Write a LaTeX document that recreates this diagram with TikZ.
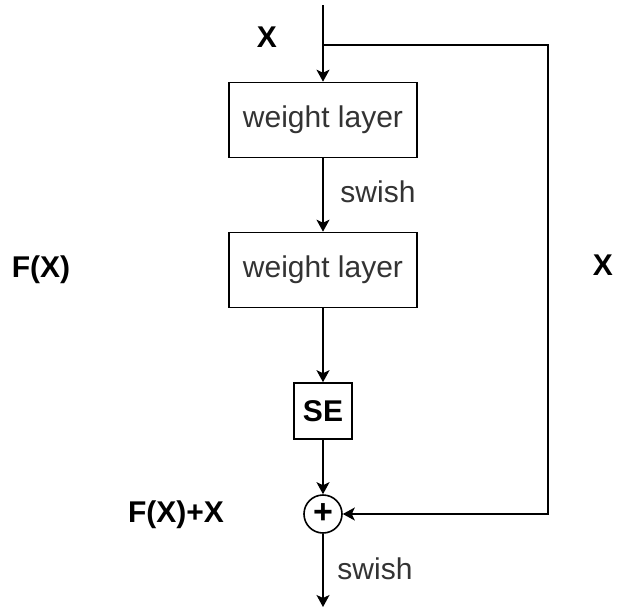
\documentclass[tikz,border=0pt]{standalone}
\usepackage{fontspec}
\setmainfont{Liberation Sans}
\usetikzlibrary{arrows.meta}

\begin{document}
\begin{tikzpicture}[x=0.5pt,y=-0.5pt,line width=0.8pt,
    font=\fontsize{15}{18}\selectfont,
    >={Stealth[length=6pt,width=6.5pt,inset=1.5pt]}]
  \useasboundingbox (0,0) rectangle (617,612);
  \tikzset{
    layer/.style={draw, minimum width=94pt, minimum height=37.5pt, inner sep=0pt, text=black!80},
    sebox/.style={draw, minimum width=29pt, minimum height=28pt, inner sep=0pt, font=\fontsize{15}{18}\selectfont\bfseries},
    addop/.style={draw, circle, minimum size=19pt, inner sep=0pt, font=\fontsize{17}{18}\selectfont\bfseries},
    lbl/.style={font=\fontsize{15}{18}\selectfont\bfseries},
    act/.style={anchor=west, text=black!80}
  }
  % blocks
  \node[layer] (wl1) at (323,120) {weight layer};
  \node[layer] (wl2) at (323,270) {weight layer};
  \node[sebox] (se) at (323,411) {SE};
  \node[addop] (add) at (323,514) {+};
  \coordinate (top) at (323,5);
  \coordinate (fork) at (323,45);
  \coordinate (corner) at (548,45);
  \coordinate (out) at (323,607);
  % labels
  \node[lbl] (xin) at (267,37) {X};
  \node[lbl] (fx) at (41,270) {F(X)};
  \node[lbl] (xskip) at (603,265) {X};
  \node[lbl] (fxx) at (176,515) {F(X)+X};
  \node[act] (sw1) at (333,192) {swish};
  \node[act] (sw2) at (330,569) {swish};
  % connectors
  \draw[->] (top) -- (wl1);
  \draw[->] (wl1) -- (wl2);
  \draw[->] (wl2) -- (se);
  \draw[->] (se) -- (add);
  \draw[->] (add) -- (out);
  \draw[->] (fork) -- (corner) |- (add);
\end{tikzpicture}
\end{document}
